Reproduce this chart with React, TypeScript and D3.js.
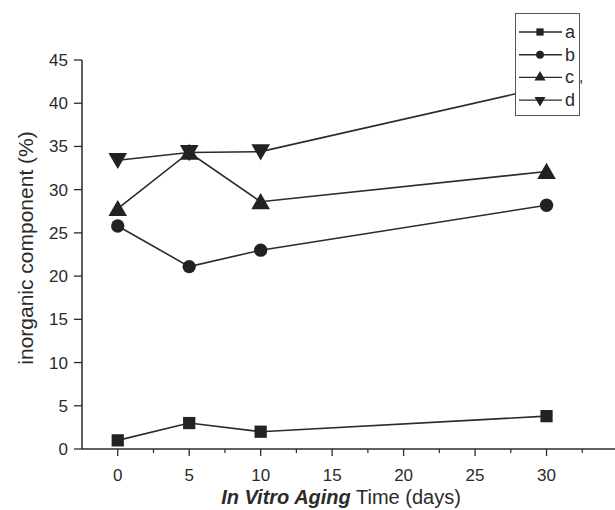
import { useEffect, useRef } from "react";
import * as d3 from "d3";

// aging time (days) and inorganic component (%) per sample
const days = [0, 5, 10, 30];
const seriesNames = ["a", "b", "c", "d"];
const valuesA = [1.0, 3.0, 2.0, 3.8];
const valuesB = [25.8, 21.1, 23.0, 28.2];
const valuesC = [27.8, 34.3, 28.6, 32.1];
const valuesD = [33.4, 34.3, 34.4, 41.9];
const yTicks = [0, 5, 10, 15, 20, 25, 30, 35, 40, 45];
const xTicks = [0, 5, 10, 15, 20, 25, 30];

const W = 615;
const H = 510;

export default function App() {
  const ref = useRef<SVGSVGElement>(null);

  useEffect(() => {
    const svg = d3.select(ref.current);
    svg.selectAll("*").remove();

    const ink = "#2b2b2b";
    const font = "'Liberation Sans', Arial, sans-serif";

    const x = d3.scaleLinear().domain([-2.5, 35]).range([82, 618]);
    const y = d3.scaleLinear().domain([0, 45]).range([449, 60]);

    // x axis with minor ticks
    const minor = d3.range(-2.5, 35, 2.5).filter((v) => v > -2.5 && v % 5 !== 0);
    svg.append("line")
      .attr("x1", x(-2.5)).attr("x2", x(35))
      .attr("y1", y(0)).attr("y2", y(0))
      .attr("stroke", ink).attr("stroke-width", 1.5);
    svg.selectAll(".xmaj").data(xTicks).enter().append("line")
      .attr("x1", (d) => x(d)).attr("x2", (d) => x(d))
      .attr("y1", y(0)).attr("y2", y(0) + 7)
      .attr("stroke", ink).attr("stroke-width", 1.3);
    svg.selectAll(".xmin").data(minor).enter().append("line")
      .attr("x1", (d) => x(d)).attr("x2", (d) => x(d))
      .attr("y1", y(0)).attr("y2", y(0) + 4)
      .attr("stroke", ink).attr("stroke-width", 1.2);
    svg.selectAll(".xlab").data(xTicks).enter().append("text")
      .attr("x", (d) => x(d)).attr("y", 481)
      .attr("text-anchor", "middle")
      .style("font-family", font).style("font-size", "17px")
      .style("fill", ink)
      .text((d) => d);

    // y axis
    svg.append("line")
      .attr("x1", x(-2.5)).attr("x2", x(-2.5))
      .attr("y1", y(0)).attr("y2", y(45))
      .attr("stroke", ink).attr("stroke-width", 1.5);
    svg.selectAll(".ymaj").data(yTicks).enter().append("line")
      .attr("x1", x(-2.5) - 8).attr("x2", x(-2.5))
      .attr("y1", (d) => y(d)).attr("y2", (d) => y(d))
      .attr("stroke", ink).attr("stroke-width", 1.3);
    svg.selectAll(".ylab").data(yTicks).enter().append("text")
      .attr("x", 68).attr("y", (d) => y(d) + 6)
      .attr("text-anchor", "end")
      .style("font-family", font).style("font-size", "17px")
      .style("fill", ink)
      .text((d) => d);

    // axis titles
    const xt = svg.append("text")
      .attr("x", 341).attr("y", 504)
      .attr("text-anchor", "middle")
      .style("font-family", font).style("font-size", "20px")
      .style("fill", ink);
    xt.append("tspan").style("font-weight", "bold").style("font-style", "italic").text("In Vitro Aging");
    xt.append("tspan").text(" Time (days)");

    svg.append("text")
      .attr("transform", "translate(33,248) rotate(-90)")
      .attr("text-anchor", "middle")
      .style("font-family", font).style("font-size", "21px")
      .style("fill", ink)
      .text("inorganic component (%)");

    const all = [valuesA, valuesB, valuesC, valuesD];
    const shapes = [d3.symbolSquare, d3.symbolCircle, d3.symbolTriangle, d3.symbolTriangle];
    const sizes = [150, 140, 150, 150];
    const rot = [0, 0, 0, 180];

    const line = d3.line<number>()
      .x((_, i) => x(days[i]))
      .y((d) => y(d));

    all.forEach((vals, k) => {
      svg.append("path")
        .datum(vals)
        .attr("fill", "none")
        .attr("stroke", ink)
        .attr("stroke-width", 1.6)
        .attr("d", line);
      svg.selectAll(".m" + k).data(vals).enter().append("path")
        .attr("d", d3.symbol(shapes[k], sizes[k])())
        .attr("transform", (d, i) => `translate(${x(days[i])},${y(d) + (k >= 2 ? (k === 2 ? 2 : -2) : 0)}) rotate(${rot[k]})`)
        .attr("fill", "#222");
    });

    // legend
    const lg = svg.append("g");
    lg.append("rect")
      .attr("x", 515.5).attr("y", 13.5)
      .attr("width", 64).attr("height", 102)
      .attr("fill", "white").attr("stroke", "#555").attr("stroke-width", 1);
    seriesNames.forEach((name, k) => {
      const ly = 32 + k * 22.7;
      lg.append("line")
        .attr("x1", 519).attr("x2", 562)
        .attr("y1", ly).attr("y2", ly)
        .attr("stroke", ink).attr("stroke-width", 1.4);
      lg.append("path")
        .attr("d", d3.symbol(shapes[k], sizes[k] * 0.35)())
        .attr("transform", `translate(540,${ly}) rotate(${rot[k]})`)
        .attr("fill", "#222");
      lg.append("text")
        .attr("x", 565).attr("y", ly + 6)
        .style("font-family", font).style("font-size", "18px")
        .style("fill", ink)
        .text(name);
    });
    lg.append("text")
      .attr("x", 579).attr("y", 82)
      .style("font-family", font).style("font-size", "16px")
      .style("fill", ink)
      .text(",");
  }, []);

  return (
    <svg
      ref={ref}
      width={W}
      height={H}
      style={{ position: "absolute", left: 0, top: 0, background: "white" }}
    />
  );
}
